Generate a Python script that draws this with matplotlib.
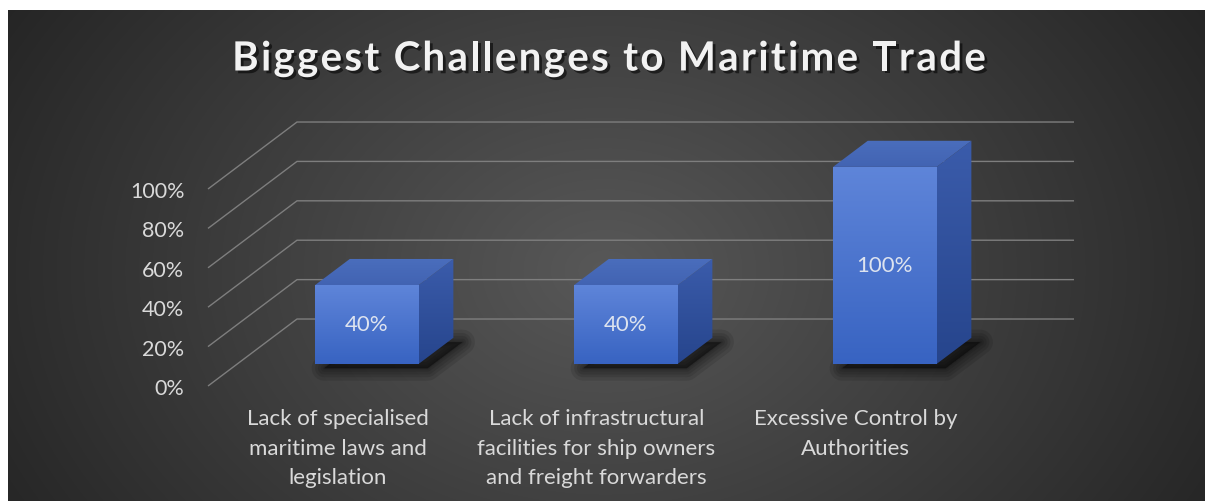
import numpy as np
import matplotlib.pyplot as plt
from matplotlib.patches import Polygon
import matplotlib.patheffects as pe

title = "Biggest Challenges to Maritime Trade"
categories = ["Lack of specialised\nmaritime laws and\nlegislation",
              "Lack of infrastructural\nfacilities for ship owners\nand freight forwarders",
              "Excessive Control by\nAuthorities"]
values = [40, 40, 100]
value_labels = ["40%", "40%", "100%"]
ticks = [0, 20, 40, 60, 80, 100]
tick_labels = ["0%", "20%", "40%", "60%", "80%", "100%"]

plt.rcParams['font.family'] = ['Lato', 'DejaVu Sans']

W, H = 1205, 502
fig = plt.figure(figsize=(W / 100, H / 100), dpi=100, facecolor='white')

# dark panel with a soft radial gradient
bg = fig.add_axes([8 / W, 0, 1 - 8 / W, 491 / H])
bg.set_axis_off()
yy, xx = np.mgrid[0:491, 0:1197]
r = np.sqrt(((xx - 597) / 700.0) ** 2 + ((yy - 260) / 520.0) ** 2)
shade = np.clip(0.345 - 0.2 * r, 0.14, 0.35)
bg.imshow(np.dstack([shade] * 3), extent=[0, 1, 0, 1], aspect='auto', origin='upper')
bg.set_xlim(0, 1)
bg.set_ylim(0, 1)

# front plane of the 3d chart: x = category, y = percent
# (axes runs up to 140 so the back edges of the tall bar stay inside it)
YMAX = 140
ax = fig.add_axes([208 / W, 115 / H, 777 / W, 1.97 * YMAX / H])
ax.patch.set_visible(False)
for s in ax.spines.values():
    s.set_visible(False)

# oblique depth direction, in data units
DX, DY = 0.3436, 34.0


def P(x, y, d):
    return (x + d * DX, y + d * DY)


# side wall + back wall gridlines
for v in ticks:
    pts = [P(-0.5, v, 0), P(-0.5, v, 1), P(2.5, v, 1)]
    ax.plot([p[0] for p in pts], [p[1] for p in pts], color='#7e7e7e', lw=1.0,
            clip_on=False, zorder=1, solid_capstyle='butt')

D0, D1 = 0.33, 0.72
HW = 0.2

front_grad = np.linspace([0.37, 0.52, 0.85], [0.22, 0.39, 0.76], 64)[:, None, :]
side_grad = np.linspace([0.23, 0.36, 0.67], [0.15, 0.27, 0.55], 64)[:, None, :]
top_grad = np.linspace([0.29, 0.43, 0.74], [0.26, 0.39, 0.70], 64)[:, None, :]


def gradient_face(pts, grad, z):
    poly = Polygon(pts, closed=True, fc='none', ec='none', clip_on=False, zorder=z)
    ax.add_patch(poly)
    xs = [p[0] for p in pts]
    ys = [p[1] for p in pts]
    im = ax.imshow(grad, extent=[min(xs), max(xs), min(ys), max(ys)], aspect='auto',
                   origin='upper', zorder=z, interpolation='bilinear')
    im.set_clip_path(poly)


for i, v in enumerate(values):
    x0, x1 = i - HW, i + HW

    # soft drop shadow under the footprint
    foot = [P(x0, 0, D0), P(x1, 0, D0), P(x1, 0, D1), P(x0, 0, D1)]
    foot = [(px + 0.035, py - 2.2) for px, py in foot]
    for lw in [18, 13, 9, 5, 2]:
        ax.add_patch(Polygon(foot, closed=True, fc=(0, 0, 0, 0.1), ec=(0, 0, 0, 0.1),
                             lw=lw, joinstyle='round', clip_on=False, zorder=2))

    gradient_face([P(x1, 0, D0), P(x1, v, D0), P(x1, v, D1), P(x1, 0, D1)], side_grad, 3)
    gradient_face([P(x0, v, D1), P(x1, v, D1), P(x1, v, D0), P(x0, v, D0)], top_grad, 4)
    gradient_face([P(x0, 0, D0), P(x1, 0, D0), P(x1, v, D0), P(x0, v, D0)], front_grad, 5)

    lx, ly = P(i, v / 2, D0)
    ax.text(lx, ly, value_labels[i], ha='center', va='center', fontsize=16,
            color='#dde3ef', zorder=6)

ax.set_xlim(-0.5, 2.5)
ax.set_ylim(0, YMAX)

ax.set_yticks(ticks, tick_labels)
ax.set_xticks(range(len(categories)), categories)
ax.tick_params(axis='y', length=0, pad=17, labelsize=15.5, labelcolor='#d9d9d9')
ax.tick_params(axis='x', length=0, pad=16, labelsize=16, labelcolor='#d9d9d9')
for t in ax.get_xticklabels():
    t.set_linespacing(1.6)

# title, drawn letter by letter for a little tracking
renderer = fig.canvas.get_renderer()
title_kw = dict(fontsize=29, fontweight='bold', color='#f2f2f2', va='center', ha='left',
                path_effects=[pe.SimplePatchShadow(offset=(2, -2), shadow_rgbFace='black',
                                                   alpha=0.55), pe.Normal()])
tracking = 2.3
probe = fig.text(0, 0, 'x x', **title_kw)
space_w = probe.get_window_extent(renderer).width
probe.set_text('xx')
space_w -= probe.get_window_extent(renderer).width
probe.remove()
widths = []
for ch in title:
    if ch == ' ':
        widths.append(space_w)
    else:
        t = fig.text(0, 0, ch, **title_kw)
        widths.append(t.get_window_extent(renderer).width)
        t.remove()
total = sum(widths) + tracking * (len(title) - 1)
x = 609 - total / 2
for ch, w in zip(title, widths):
    if ch != ' ':
        fig.text(x / W, 1 - 60 / H, ch, **title_kw)
    x += w + tracking

fig.savefig('out.png', dpi=100, facecolor='white')
